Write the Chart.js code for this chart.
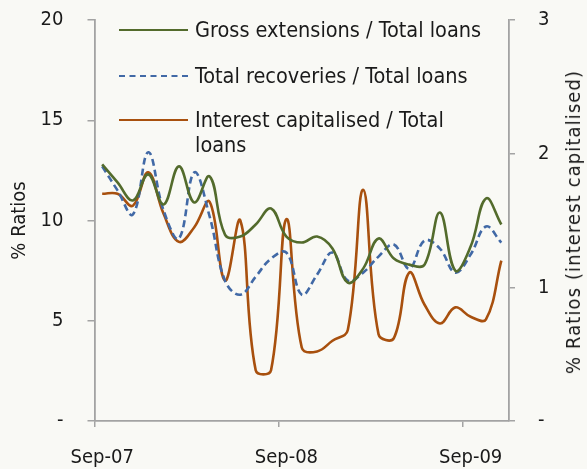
<!DOCTYPE html>
<html>
<head>
<meta charset="utf-8">
<script src="https://cdn.jsdelivr.net/npm/chart.js@4"></script>
<style>
  html, body { margin: 0; padding: 0; background: #f9f9f5; }
  #wrap { position: relative; width: 587px; height: 469px; overflow: hidden;
          font-family: "DejaVu Sans Condensed", "DejaVu Sans", sans-serif; color: #1a1a1a; }
  #c { position: absolute; left: 0; top: 0; }
  .lg-line { position: absolute; left: 119px; width: 69px; height: 0; }
  .lg-text { position: absolute; left: 195px; width: 295px; font-size: 21.5px; line-height: 24.5px; }
  #rtitle { position: absolute; left: 573px; top: 222px; font-size: 20px; letter-spacing: 1.1px; white-space: nowrap;
            transform: translate(-50%, -50%) rotate(-90deg); }
</style>
</head>
<body>
<div id="wrap">
  <canvas id="c" width="587" height="469"></canvas>
  <div id="legend"></div>
  <div id="rtitle"></div>
</div>
<script>
const months = ["Sep-07","Oct-07","Nov-07","Dec-07","Jan-08","Feb-08","Mar-08","Apr-08","May-08","Jun-08","Jul-08","Aug-08",
                "Sep-08","Oct-08","Nov-08","Dec-08","Jan-09","Feb-09","Mar-09","Apr-09","May-09","Jun-09","Jul-09","Aug-09",
                "Sep-09","Oct-09","Nov-09"];
const shownMonthLabels = ["Sep-07","Sep-08","Sep-09"];
const grossExtensions = [12.8,11.9,11.0,12.3,10.8,12.7,10.9,12.2,9.3,9.2,9.8,10.6,9.2,8.9,9.2,8.6,6.9,7.6,9.1,8.1,7.8,7.8,10.4,7.5,8.7,11.1,9.8];
const totalRecoveries = [12.7,11.5,10.3,13.4,10.5,9.1,12.4,10.2,7.0,6.3,7.2,8.1,8.4,6.3,7.3,8.4,7.0,7.4,8.2,8.8,7.6,9.0,8.6,7.4,8.3,9.7,8.9];
const interestCapitalised = [1.70,1.70,1.61,1.86,1.55,1.34,1.45,1.64,1.05,1.50,0.38,0.38,1.51,0.55,0.52,0.60,0.68,1.73,0.65,0.62,1.11,0.87,0.73,0.85,0.78,0.76,1.20];
const seriesLabels = ["Gross extensions / Total loans","Total recoveries / Total loans","Interest capitalised / Total loans"];
const leftTitle = "% Ratios";
const rightTitle = "% Ratios (interest capitalised)";

const FONT = '"DejaVu Sans Condensed", "DejaVu Sans", sans-serif';
const TXT = '#1a1a1a';
const AXIS = '#a3a3a3';
const colors = ['#536b2c', '#4169a6', '#a8500e'];

Chart.defaults.font.family = FONT;
Chart.defaults.font.size = 20;
Chart.defaults.color = TXT;

const datasets = [
  { label: seriesLabels[0], data: grossExtensions, yAxisID: 'y', borderColor: colors[0], borderWidth: 2.6 },
  { label: seriesLabels[1], data: totalRecoveries, yAxisID: 'y', borderColor: colors[1], borderWidth: 2.6, borderDash: [7, 4] },
  { label: seriesLabels[2], data: interestCapitalised, yAxisID: 'y1', borderColor: colors[2], borderWidth: 2.6 }
].map(d => Object.assign({ pointRadius: 0, tension: 0.4, fill: false }, d));

new Chart(document.getElementById('c'), {
  type: 'line',
  data: { labels: months, datasets },
  options: {
    responsive: false,
    devicePixelRatio: 1,
    animation: false,
    layout: { padding: { top: 20, left: 0, right: 0, bottom: 0 } },
    plugins: { legend: { display: false }, tooltip: { enabled: false } },
    scales: {
      x: {
        type: 'category',
        offset: true,
        grid: { offset: true, drawOnChartArea: false, tickLength: 6, lineWidth: 1.5,
                color: ctx => (ctx.index % 12 === 0 ? AXIS : 'rgba(0,0,0,0)') },
        border: { display: true, color: AXIS, width: 1.8 },
        ticks: { autoSkip: false, maxRotation: 0, padding: 19, font: { size: 20 },
                 callback: function(v, i) { const l = this.getLabelForValue(v); return shownMonthLabels.includes(l) ? l : ''; } },
        afterFit: s => { s.height = 48; s.paddingLeft = 0; s.paddingRight = 0; }
      },
      y: {
        position: 'left', min: 0, max: 20,
        grid: { drawOnChartArea: false, tickLength: 7, color: AXIS, lineWidth: 1.5 },
        border: { display: true, color: AXIS, width: 1.8 },
        ticks: { stepSize: 5, padding: 24, font: { size: 20 }, callback: v => (v === 0 ? '-' : v) },
        title: { display: true, text: leftTitle, font: { size: 20 }, padding: { top: 8, bottom: 0 } },
        afterFit: s => { s.width = 94.5; s.paddingTop = 0; s.paddingBottom = 0; }
      },
      y1: {
        position: 'right', min: 0, max: 3,
        grid: { drawOnChartArea: false, tickLength: 6, color: AXIS, lineWidth: 1.5 },
        border: { display: true, color: AXIS, width: 1.8 },
        ticks: { stepSize: 1, padding: 23, font: { size: 20 }, callback: v => (v === 0 ? '-' : v) },
        afterFit: s => { s.width = 78; s.paddingTop = 0; s.paddingBottom = 0; }
      }
    }
  }
});

// HTML legend built from the datasets
const legend = document.getElementById('legend');
const rowCenters = [30.7, 76, 120.7];
datasets.forEach((d, i) => {
  const line = document.createElement('div');
  line.className = 'lg-line';
  line.style.top = (rowCenters[i] - 1.3) + 'px';
  line.style.borderTop = '2.6px ' + (d.borderDash ? 'dashed ' : 'solid ') + d.borderColor;
  legend.appendChild(line);
  const t = document.createElement('div');
  t.className = 'lg-text';
  t.style.top = (rowCenters[i] - 12.25) + 'px';
  t.textContent = d.label;
  legend.appendChild(t);
});
document.getElementById('rtitle').textContent = rightTitle;
</script>
</body>
</html>
